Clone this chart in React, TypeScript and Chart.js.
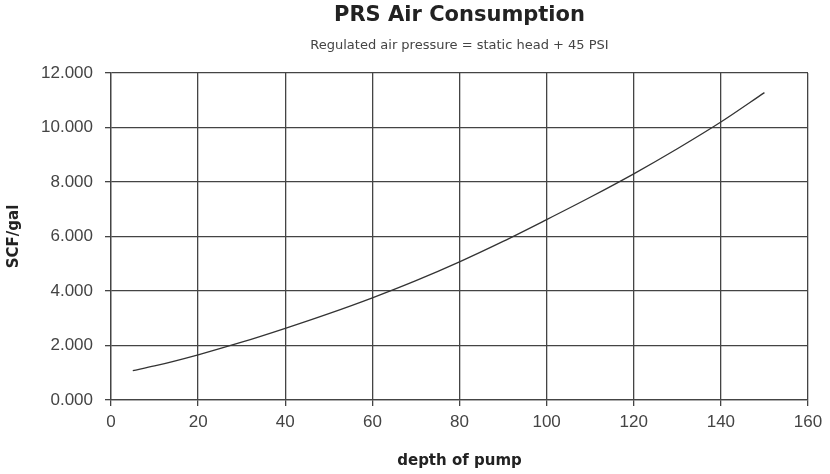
import { useEffect, useRef } from 'react';
import { Chart, registerables } from 'chart.js';

Chart.register(...registerables);

const depths = [5, 10, 20, 30, 40, 50, 60, 70, 80, 90, 100, 110, 120, 130, 140, 150];
const scfPerGal = [1.08, 1.25, 1.66, 2.12, 2.63, 3.17, 3.75, 4.38, 5.07, 5.82, 6.62, 7.44, 8.3, 9.22, 10.2, 11.28];
const xTickValues = [0, 20, 40, 60, 80, 100, 120, 140, 160];
const yTickValues = [0, 2, 4, 6, 8, 10, 12];

const titleText = 'PRS Air Consumption';
const subtitleText = 'Regulated air pressure = static head + 45 PSI';
const xTitle = 'depth of pump';
const yTitle = 'SCF/gal';

const GRID = '#444444';

export default function App() {
  const ref = useRef<HTMLCanvasElement | null>(null);

  useEffect(() => {
    if (!ref.current) return;
    const chart = new Chart(ref.current, {
      type: 'line',
      data: {
        datasets: [
          {
            label: yTitle,
            data: depths.map((d, i) => ({ x: d, y: scfPerGal[i] })),
            borderColor: '#333333',
            borderWidth: 1.3,
            pointRadius: 0,
            fill: false,
            cubicInterpolationMode: 'monotone',
          },
        ],
      },
      options: {
        responsive: false,
        animation: false,
        layout: { padding: { top: 0, left: 0, right: 22, bottom: 0 } },
        plugins: {
          legend: { display: false },
          tooltip: { enabled: false },
          title: {
            display: true,
            text: titleText,
            fullSize: false,
            color: '#222222',
            font: { family: 'DejaVu Sans', size: 21, weight: 'bold' },
            padding: { top: 3.4, bottom: 9.6 },
          },
          subtitle: {
            display: true,
            text: subtitleText,
            fullSize: false,
            color: '#444444',
            font: { family: 'DejaVu Sans', size: 13 },
            padding: { top: 0, bottom: 19.2 },
          },
        },
        scales: {
          x: {
            type: 'linear',
            min: 0,
            max: 160,
            afterBuildTicks: (scale: any) => {
              scale.ticks = xTickValues.map((v) => ({ value: v }));
            },
            afterFit: (scale: any) => {
              scale.height = 74;
            },
            grid: { color: GRID, lineWidth: 1.3, tickLength: 6, drawTicks: true },
            border: { color: GRID, width: 1.3 },
            ticks: {
              color: '#444444',
              font: { family: 'Liberation Sans', size: 17 },
              padding: 6,
              maxRotation: 0,
            },
            title: {
              display: true,
              text: xTitle,
              color: '#222222',
              font: { family: 'DejaVu Sans', size: 15, weight: 'bold' },
              padding: { top: 4, bottom: 4 },
            },
          },
          y: {
            type: 'linear',
            min: 0,
            max: 12,
            afterBuildTicks: (scale: any) => {
              scale.ticks = yTickValues.map((v) => ({ value: v }));
            },
            afterFit: (scale: any) => {
              scale.width = 111;
            },
            grid: { color: GRID, lineWidth: 1.3, tickLength: 6, drawTicks: true },
            border: { color: GRID, width: 1.3 },
            ticks: {
              color: '#444444',
              font: { family: 'Liberation Sans', size: 17 },
              padding: 12,
              callback: (v: any) => Number(v).toFixed(3),
            },
            title: {
              display: true,
              text: yTitle,
              color: '#222222',
              font: { family: 'DejaVu Sans', size: 15, weight: 'bold' },
              padding: { top: 5.5, bottom: 4 },
            },
          },
        },
      },
    });
    return () => chart.destroy();
  }, []);

  return (
    <div style={{ position: 'absolute', left: 0, top: 0, width: 830, height: 474, background: '#ffffff' }}>
      <canvas ref={ref} width={830} height={474} />
    </div>
  );
}
